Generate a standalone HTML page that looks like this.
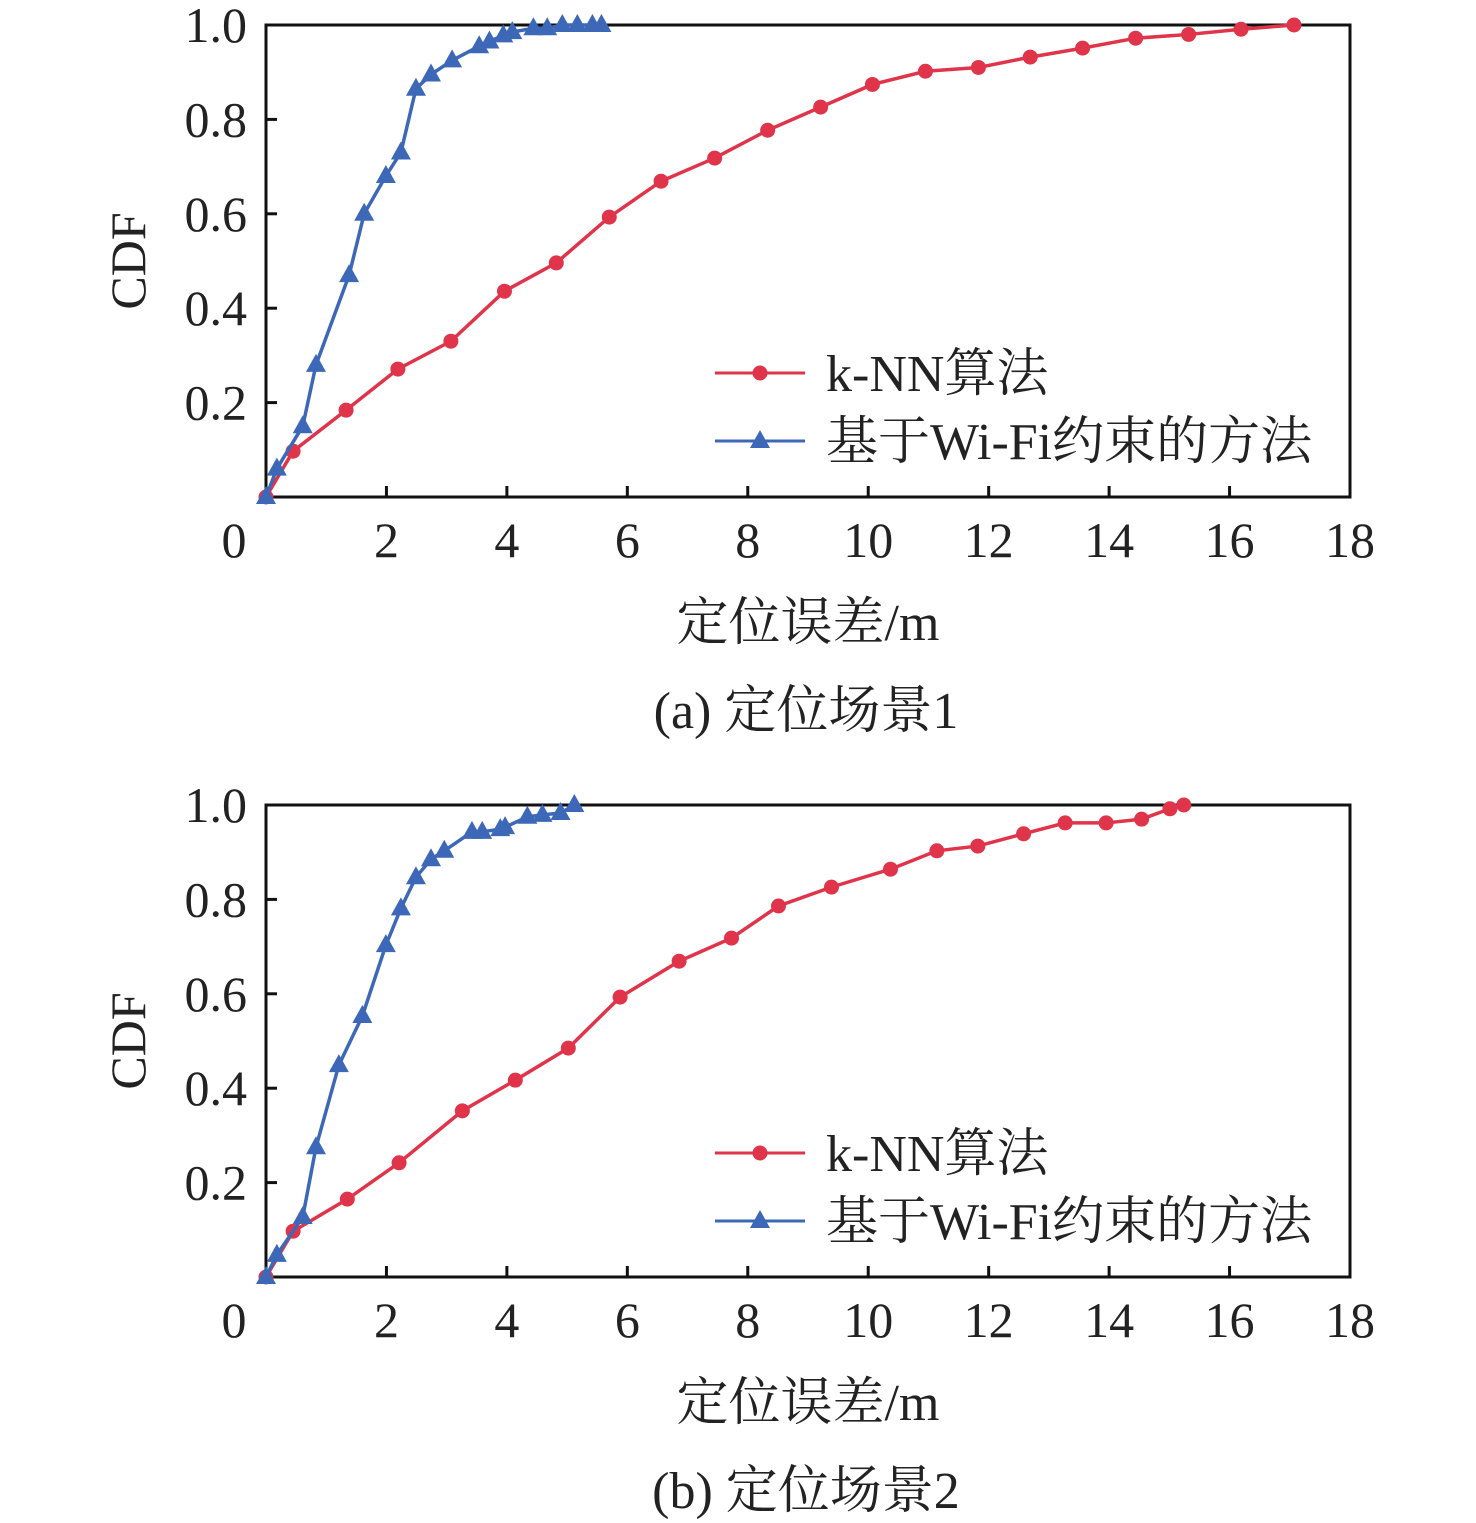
<!DOCTYPE html>
<html><head><meta charset="utf-8">
<style>
html,body{margin:0;padding:0;background:#fff;}
svg{display:block;}
text{font-family:"Liberation Serif","Noto Serif CJK SC",serif;fill:#222;}
</style></head>
<body>
<svg id="chart" width="1476" height="1523" viewBox="0 0 1476 1523" xmlns="http://www.w3.org/2000/svg"></svg>
<script>
const xTicks = [0,2,4,6,8,10,12,14,16,18];
const yTicks = [0.2,0.4,0.6,0.8,1.0];
const yTickLabels = ["0.2","0.4","0.6","0.8","1.0"];
const seriesNames = ["k-NN算法","基于Wi-Fi约束的方法"];
const captions = ["(a) 定位场景1","(b) 定位场景2"];
const knnAx = [0,0.45,1.33,2.19,3.07,3.96,4.82,5.70,6.56,7.45,8.33,9.21,10.07,10.95,11.83,12.69,13.56,14.44,15.32,16.19,17.07];
const knnAy = [0,0.097,0.184,0.271,0.33,0.436,0.496,0.593,0.669,0.718,0.777,0.826,0.874,0.902,0.91,0.932,0.951,0.972,0.98,0.991,1];
const wifiAx = [0,0.18,0.61,0.83,1.38,1.63,1.99,2.24,2.49,2.74,3.09,3.54,3.71,3.94,4.09,4.44,4.67,4.92,5.17,5.42,5.57];
const wifiAy = [0,0.06,0.15,0.28,0.47,0.60,0.68,0.73,0.865,0.895,0.925,0.955,0.965,0.978,0.985,0.993,0.993,1,1,1,1];
const knnBx = [0,0.45,1.35,2.21,3.26,4.14,5.02,5.88,6.86,7.73,8.51,9.39,10.37,11.14,11.82,12.58,13.27,13.95,14.54,15.01,15.24];
const knnBy = [0,0.097,0.165,0.242,0.352,0.417,0.485,0.593,0.669,0.718,0.786,0.826,0.864,0.903,0.913,0.939,0.962,0.962,0.97,0.992,1];
const wifiBx = [0,0.18,0.61,0.83,1.21,1.60,1.99,2.24,2.49,2.74,2.96,3.42,3.59,3.89,3.97,4.34,4.59,4.89,5.12];
const wifiBy = [0,0.047,0.127,0.275,0.449,0.553,0.703,0.781,0.847,0.885,0.903,0.943,0.943,0.949,0.953,0.975,0.979,0.983,1.0];

const NS = "http://www.w3.org/2000/svg";
const svg = document.getElementById('chart');
function mk(tag, attrs, parent){
  const e = document.createElementNS(NS, tag);
  for (const k in attrs) e.setAttribute(k, attrs[k]);
  (parent||svg).appendChild(e);
  return e;
}
const RED = "#e0344a", BLUE = "#3d68b8";

function panel(top, idx, kx, ky, wx, wy){
  const L=266, R=1350, T=top, B=top+472;
  const g = mk('g', {});
  
  
  const X = v => L + v/18*(R-L);
  const Y = v => B - v*(B-T);
  const frame = mk('rect', {x:L, y:T, width:R-L, height:B-T, fill:'none', stroke:'#111', 'stroke-width':3}, g);
  
  
  xTicks.forEach((t,i)=>{
    if (t>0 && t<18) mk('line',{x1:X(t),x2:X(t),y1:B,y2:B-11,stroke:'#111','stroke-width':3},g);
    const tx = mk('text',{x: t===0 ? 234 : X(t), y:B+60, 'text-anchor':'middle','font-size':50},g);
    tx.textContent = String(t);
    
    
  });
  yTicks.forEach((t,i)=>{
    if (t<1) mk('line',{x1:L,x2:L+11,y1:Y(t),y2:Y(t),stroke:'#111','stroke-width':3},g);
    const tx = mk('text',{x:247, y:Y(t)+17, 'text-anchor':'end','font-size':50},g);
    tx.textContent = yTickLabels[i];
    
    
  });
  const yt = mk('text',{x:0,y:0,'text-anchor':'middle','font-size':50,transform:`translate(145,${(T+B)/2}) rotate(-90)`},g);
  yt.textContent = 'CDF';
  
  
  const xt = mk('text',{x:808,y:B+143,'text-anchor':'middle','font-size':52},g);
  xt.textContent = '定位误差/m';
  
  
  const cp = mk('text',{x:806,y:B+231,'text-anchor':'middle','font-size':52},g);
  cp.textContent = captions[idx];
  
  

  function tri(cx, cy, col, parent){
    return mk('polygon',{points:`${cx},${cy-11} ${cx-10},${cy+7} ${cx+10},${cy+7}`, fill:col}, parent);
  }
  const kl = mk('polyline',{points:kx.map((v,i)=>X(v)+','+Y(ky[i])).join(' '), fill:'none', stroke:RED,'stroke-width':3.5},g);
  
  
  kx.forEach((v,i)=>{
    const c = mk('circle',{cx:X(v),cy:Y(ky[i]),r:7.5,fill:RED},g);
    
    
  });
  const wl = mk('polyline',{points:wx.map((v,i)=>X(v)+','+Y(wy[i])).join(' '), fill:'none', stroke:BLUE,'stroke-width':3.5},g);
  
  
  wx.forEach((v,i)=>{
    const p = tri(X(v),Y(wy[i]),BLUE,g);
    
    
  });
  const ly1 = T+348, ly2 = T+416;
  mk('line',{x1:715,x2:805,y1:ly1,y2:ly1,stroke:RED,'stroke-width':3},g);
  mk('circle',{cx:760,cy:ly1,r:7.5,fill:RED},g);
  const l1 = mk('text',{x:826,y:ly1+18,'font-size':52},g);
  l1.textContent = seriesNames[0];
  
  
  mk('line',{x1:715,x2:805,y1:ly2,y2:ly2,stroke:BLUE,'stroke-width':3},g);
  tri(760,ly2,BLUE,g);
  const l2 = mk('text',{x:826,y:ly2+18,'font-size':52},g);
  l2.textContent = seriesNames[1];
  
  
}
panel(25, 0, knnAx, knnAy, wifiAx, wifiAy);
panel(805, 1, knnBx, knnBy, wifiBx, wifiBy);
</script>
</body></html>
